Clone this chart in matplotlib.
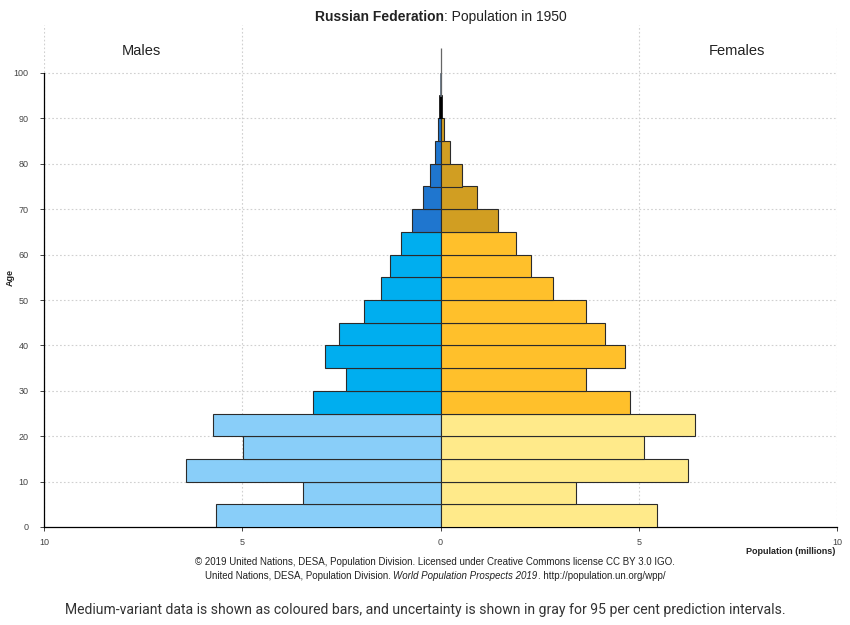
import matplotlib
matplotlib.use("Agg")
import matplotlib.pyplot as plt
import numpy as np

plt.rcParams['font.family'] = ['Liberation Sans', 'DejaVu Sans']

age_starts = [0, 5, 10, 15, 20, 25, 30, 35, 40, 45, 50, 55, 60, 65, 70, 75, 80, 85, 90, 95]
males = [5.65, 3.48, 6.41, 4.99, 5.75, 3.22, 2.38, 2.91, 2.55, 1.94, 1.51, 1.28, 1.00,
         0.73, 0.44, 0.26, 0.13, 0.06, 0.02, 0.003]
females = [5.45, 3.43, 6.23, 5.14, 6.41, 4.79, 3.68, 4.65, 4.15, 3.66, 2.83, 2.29, 1.91,
           1.46, 0.92, 0.54, 0.24, 0.08, 0.03, 0.005]
xticks = [-10, -5, 0, 5, 10]
xtick_labels = ['10', '5', '0', '5', '10']
yticks = [0, 10, 20, 30, 40, 50, 60, 70, 80, 90, 100]

def male_color(a):
    if a < 25:
        return '#89CEF9'
    if a < 65:
        return '#00AEEF'
    return '#1F76CF'

def female_color(a):
    if a < 25:
        return '#FFEA8A'
    if a < 65:
        return '#FFC02B'
    return '#D19E22'

fig = plt.figure(figsize=(8.5, 6.25), dpi=100)
ax = fig.add_axes([44/850, 1 - 527/625, (837-44)/850, (527-25)/625])
ax.set_xlim(-10, 10)
ax.set_ylim(0, 100 * (527-25) / 454)

ax.vlines(0, 0, 105.5, color='#666666', linewidth=0.9, zorder=2)

edge = '#2b2b2b'
for a, m, f in zip(age_starts, males, females):
    if a >= 95:
        ec, lw = '#666666', 0.5
    elif a >= 90:
        ec, lw = 'black', 1.2
    else:
        ec, lw = edge, 0.8
    ax.barh(a, -m, height=5, align='edge', color=male_color(a), edgecolor=ec, linewidth=lw, zorder=3)
    ax.barh(a, f, height=5, align='edge', color=female_color(a), edgecolor=ec, linewidth=lw, zorder=3)

for x in [-10, -5, 5, 10]:
    ax.axvline(x, color='#d0d0d0', linestyle=(0, (1.5, 2)), linewidth=0.8, zorder=1)
for y in yticks[1:]:
    ax.axhline(y, color='#d0d0d0', linestyle=(0, (1.5, 2)), linewidth=0.8, zorder=1)

for s in ['top', 'right']:
    ax.spines[s].set_visible(False)
ax.spines['left'].set_bounds(0, 100)
ax.spines['left'].set_linewidth(0.9)
ax.spines['bottom'].set_linewidth(0.9)

ax.set_xticks(xticks)
ax.set_xticklabels(xtick_labels)
ax.set_yticks(yticks)
ax.tick_params(axis='both', labelsize=6.5, colors='#222222', labelcolor='#444444', length=3, width=0.6)
ax.tick_params(axis='x', pad=5)
ax.tick_params(axis='y', pad=8)

fig.text(10/850, 1 - 277/625, 'Age', rotation=90, fontsize=6.5, fontweight='bold',
         ha='center', va='center', color='#222222')
fig.text(835/850, 1 - 552/625, 'Population (millions)', fontsize=6.5, fontweight='bold',
         ha='right', va='center', color='#222222')

fig.text(141/850, 1 - 51/625, 'Males', fontsize=10.5, ha='center', va='center', color='#222222')
fig.text(737/850, 1 - 51/625, 'Females', fontsize=10.5, ha='center', va='center', color='#222222')

t1 = fig.text(0.5, 1 - 17/625, 'Russian Federation', fontsize=10, fontweight='bold',
              ha='left', va='center', color='#222222')
t2 = fig.text(0.5, 1 - 17/625, ': Population in 1950', fontsize=10, ha='left', va='center', color='#222222')
fig.canvas.draw()
r = fig.canvas.get_renderer()
w1 = t1.get_window_extent(r).width
w2 = t2.get_window_extent(r).width
start = 441 - (w1 + w2) / 2
t1.set_position((start / 850, 1 - 17/625))
t2.set_position(((start + w1) / 850, 1 - 17/625))

fs_foot = 7
fig.text(435/850, 1 - 562/625,
         '\u00a9 2019 United Nations, DESA, Population Division. Licensed under Creative Commons license CC BY 3.0 IGO.',
         fontsize=fs_foot, ha='center', va='center', color='#222222')
l2a = 'United Nations, DESA, Population Division. '
l2b = 'World Population Prospects 2019'
l2c = '. http://population.un.org/wpp/'
ta = fig.text(0, 1 - 576/625, l2a, fontsize=fs_foot, ha='left', va='center', color='#222222')
tb = fig.text(0, 1 - 576/625, l2b, fontsize=fs_foot, ha='left', va='center', style='italic', color='#222222')
tc = fig.text(0, 1 - 576/625, l2c, fontsize=fs_foot, ha='left', va='center', color='#222222')
fig.canvas.draw()
wa = ta.get_window_extent(r).width
wb = tb.get_window_extent(r).width
wc = tc.get_window_extent(r).width
s0 = 435 - (wa + wb + wc) / 2
ta.set_position((s0 / 850, 1 - 576/625))
tb.set_position(((s0 + wa) / 850, 1 - 576/625))
tc.set_position(((s0 + wa + wb) / 850, 1 - 576/625))

fig.text(425/850, 1 - 610/625,
         'Medium-variant data is shown as coloured bars, and uncertainty is shown in gray for 95 per cent prediction intervals.',
         fontsize=10.1, ha='center', va='center', color='#333333', family=['Roboto', 'DejaVu Sans'])

fig.savefig('out.png', dpi=100)
